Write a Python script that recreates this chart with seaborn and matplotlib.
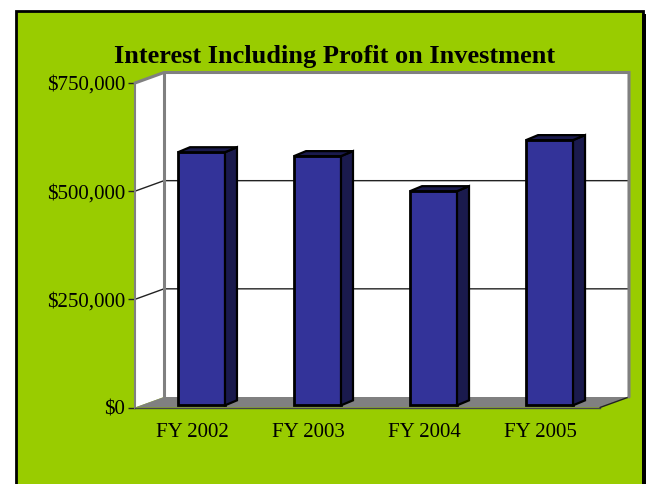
import matplotlib
matplotlib.use("Agg")
import matplotlib.pyplot as plt
from matplotlib.patches import Polygon, Rectangle
import numpy as np
import seaborn as sns

fiscal_years = ["FY 2002", "FY 2003", "FY 2004", "FY 2005"]
interest = [585000, 576000, 495000, 613000]
y_ticks = [0, 250000, 500000, 750000]
y_labels = ["$0", "$250,000", "$500,000", "$750,000"]

GREEN = "#99CC00"
BAR = "#333399"
BAR_DARK = "#1A1A4D"
WALL = "#808080"

sns.set_theme(style="white")
plt.rcParams["font.family"] = ["Liberation Serif", "DejaVu Serif"]

W, H = 646, 484
fig = plt.figure(figsize=(W / 100, H / 100), dpi=100, facecolor="white")

# background panel, in pixels
bg = fig.add_axes([0, 0, 1, 1], zorder=0)
bg.set_xlim(0, W)
bg.set_ylim(H, 0)
bg.axis("off")
bg.add_patch(Rectangle((16, 11), 627, 480, fc=GREEN, ec="black", lw=2))
bg.add_patch(Rectangle((642, 14), 6, 480, fc="black", ec="none"))

ax = fig.add_axes([135 / W, 1 - 407.5 / H, 465 / W, 324.5 / H], zorder=1)
ax.patch.set_alpha(0)

sns.barplot(x=fiscal_years, y=interest, color=BAR, saturation=1, width=0.405,
            bottom=5000, edgecolor="black", linewidth=2, ax=ax, zorder=3)

ax.set_xlim(-0.573, 3.435)
ax.set_ylim(0, 750000)

# 3d depth of the box and of the bars, pixels converted to data units
px_x = (3.435 + 0.573) / 465
px_y = 750000 / 324.5
box_dx, box_dy = 29 * px_x, 10.5 * px_y
bar_dx, bar_dy = 12 * px_x, 5 * px_y
x0, x1 = ax.get_xlim()
top = y_ticks[-1]

ax.add_patch(Polygon([(x0, 0), (x0 + box_dx, box_dy), (x1 + box_dx, box_dy), (x1 + box_dx, top + box_dy),
                      (x0 + box_dx, top + box_dy), (x0, top)], fc="white", ec="none", clip_on=False, zorder=0))
ax.add_patch(Polygon([(x0, 0), (x0 + box_dx, box_dy), (x1 + box_dx, box_dy), (x1, 0)],
                     fc=WALL, ec="none", clip_on=False, zorder=1))
ax.plot([x1, x1 + box_dx], [0, box_dy], color="#222222", lw=1, clip_on=False, zorder=1)

for t in y_ticks[1:-1]:
    ax.plot([x0, x0 + box_dx, x1 + box_dx], [t, t + box_dy, t + box_dy],
            color="#222222", lw=1, clip_on=False, zorder=1)

ax.plot([x0, x0 + box_dx, x1 + box_dx, x1 + box_dx], [top, top + box_dy, top + box_dy, box_dy],
        color=WALL, lw=2.2, clip_on=False, zorder=2, solid_joinstyle="miter")
ax.plot([x0 + box_dx, x0 + box_dx], [box_dy, top + box_dy], color=WALL, lw=2.2, clip_on=False, zorder=2)

for p in list(ax.patches):
    if not isinstance(p, Rectangle):
        continue
    l, b, w, h = p.get_x(), p.get_y(), p.get_width(), p.get_height()
    r, t = l + w, b + h
    ax.add_patch(Polygon([(r, b), (r + bar_dx, b + bar_dy), (r + bar_dx, t + bar_dy), (r, t)],
                         fc=BAR_DARK, ec="black", lw=1.6, joinstyle="miter", zorder=3))
    ax.add_patch(Polygon([(l, t), (l + bar_dx, t + bar_dy), (r + bar_dx, t + bar_dy), (r, t)],
                         fc=BAR_DARK, ec="black", lw=1.6, joinstyle="miter", zorder=3))

ax.set_xticks(np.arange(len(fiscal_years)) - 0.075)
ax.set_xticklabels(fiscal_years, fontsize=15, color="black")
ax.set_yticks(y_ticks)
ax.set_yticklabels(y_labels, fontsize=15, color="black")
ax.tick_params(axis="x", length=0, pad=11)
ax.tick_params(axis="y", length=5, width=1, color="#222222", pad=2, left=True)

for name in ["top", "right"]:
    ax.spines[name].set_visible(False)
ax.spines["left"].set_color(WALL)
ax.spines["left"].set_linewidth(1.5)
ax.spines["bottom"].set_color("#444444")
ax.spines["bottom"].set_linewidth(1)

fig.text(335 / W, 1 - 56 / H, "Interest Including Profit on Investment", fontsize=19,
         fontweight="bold", color="black", ha="center", va="center")

fig.savefig("out.png", dpi=100, facecolor="white")
